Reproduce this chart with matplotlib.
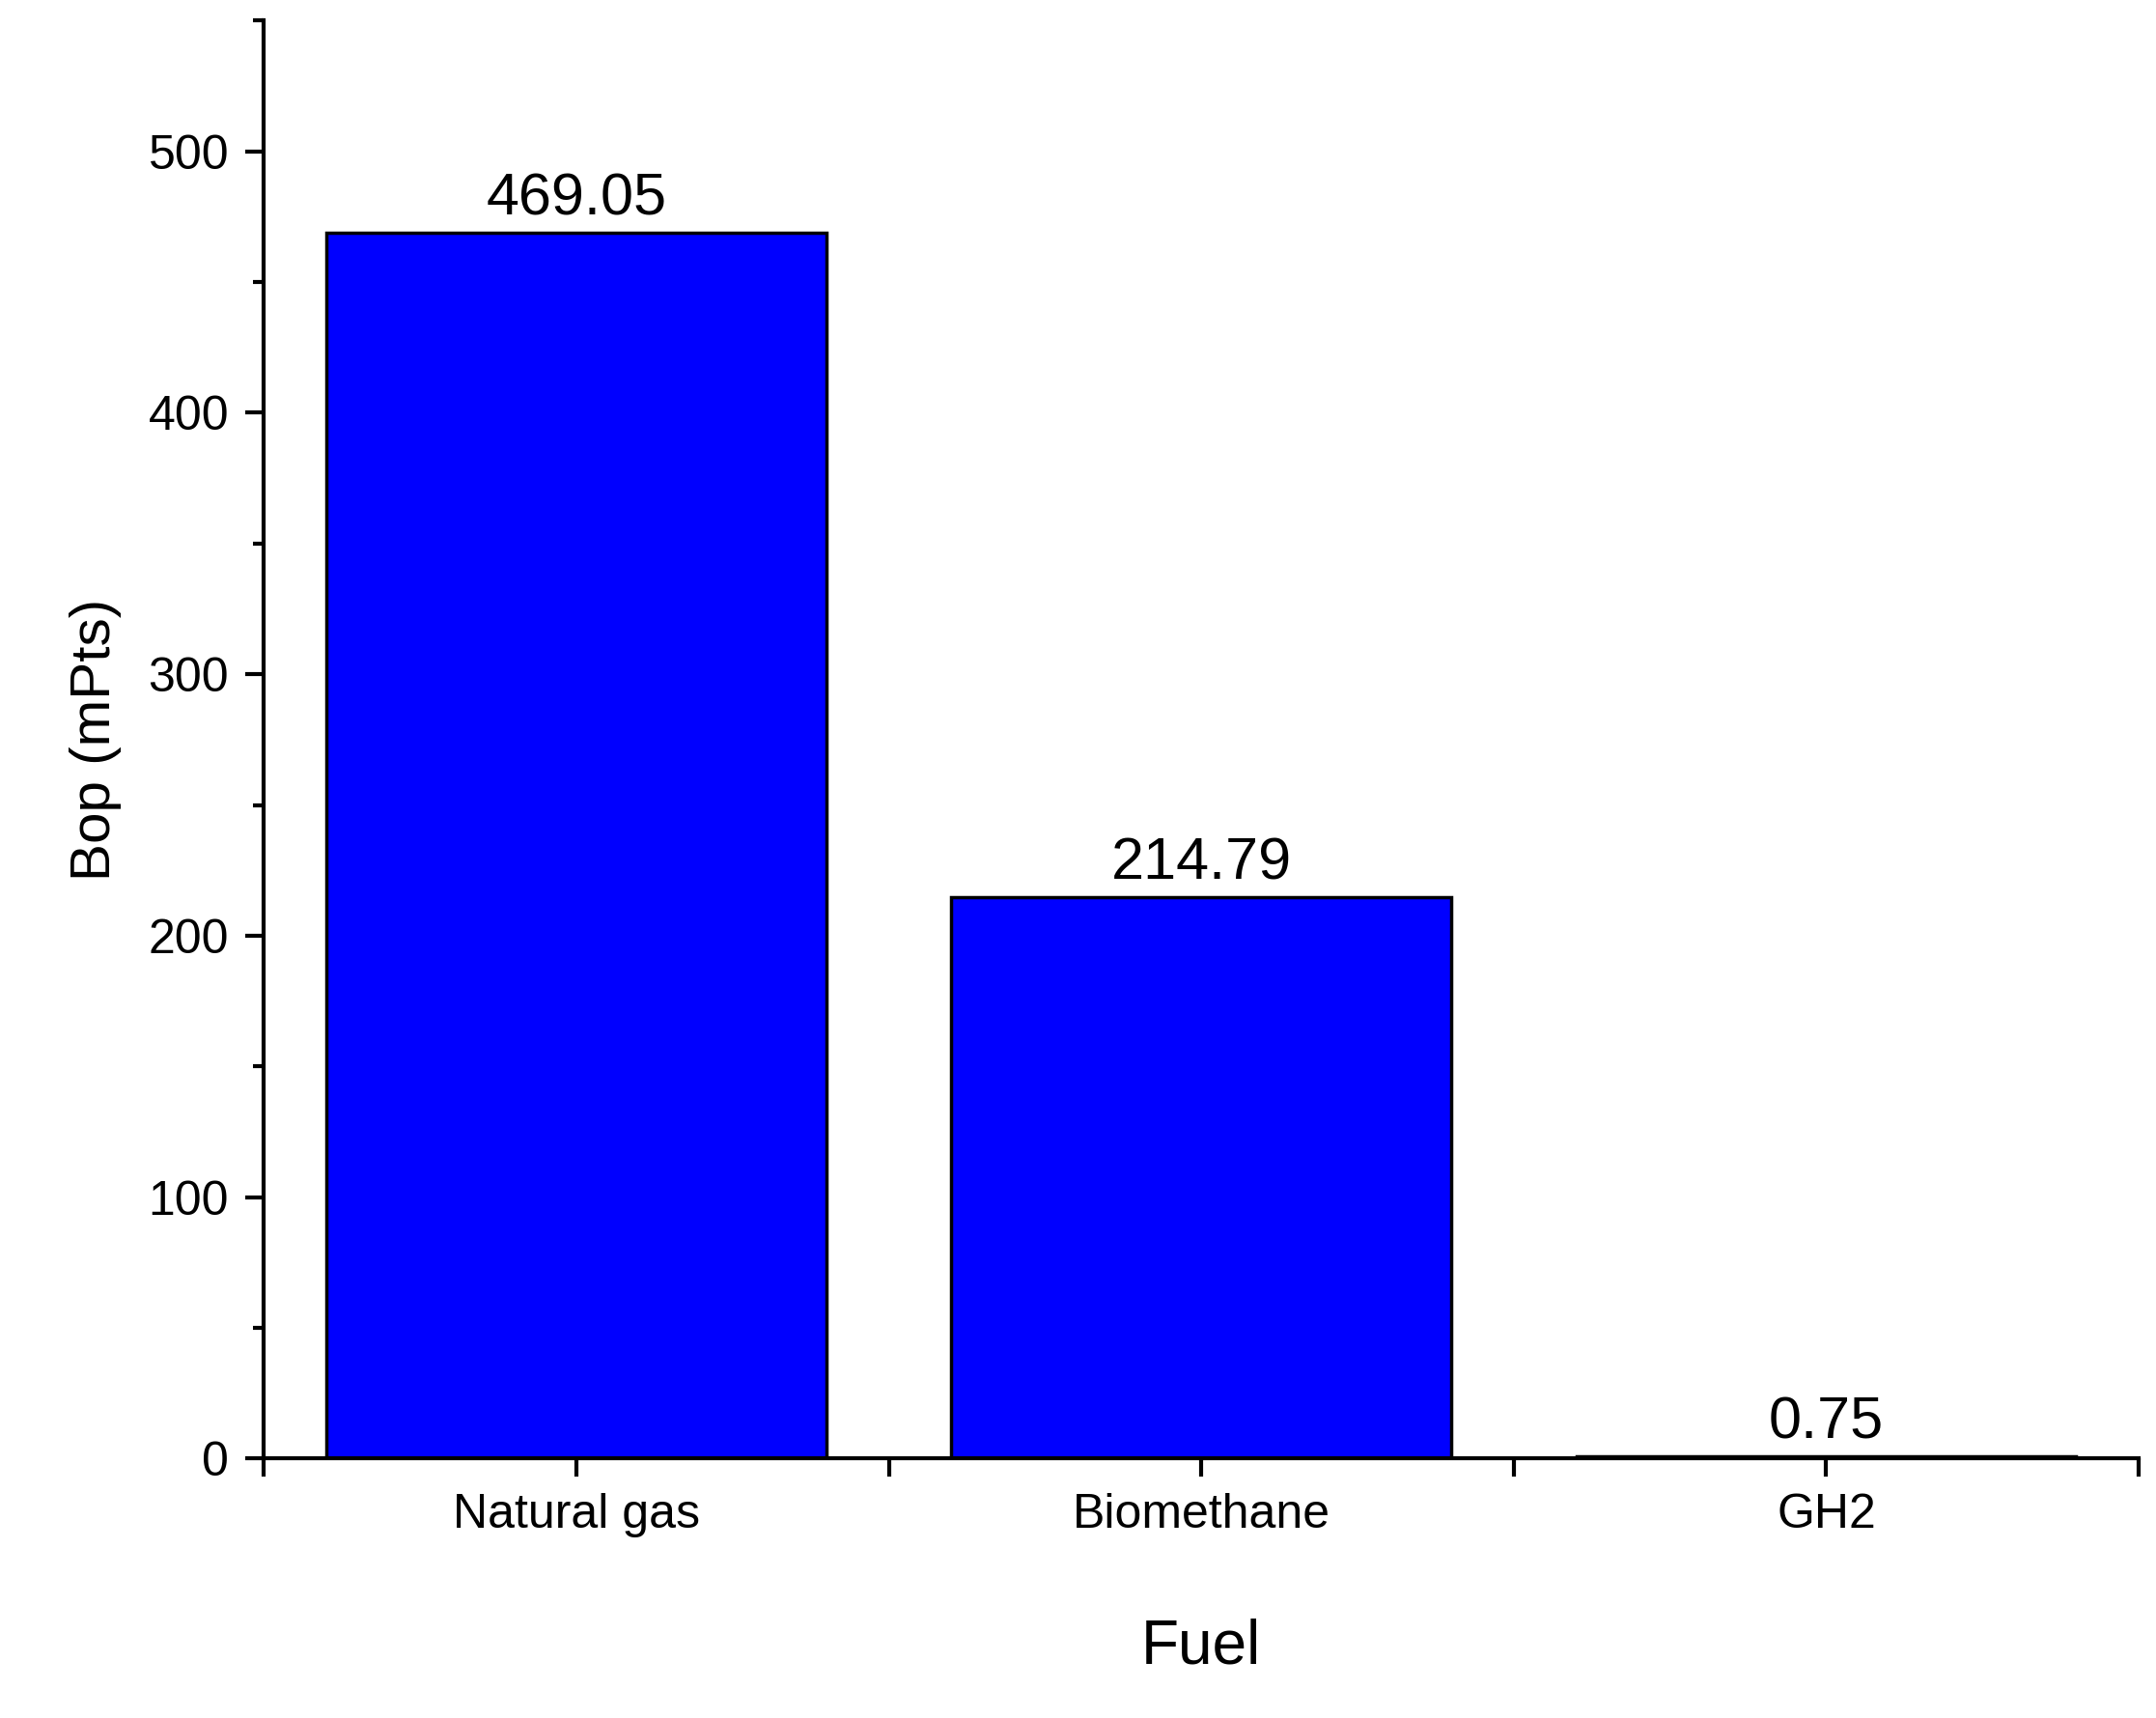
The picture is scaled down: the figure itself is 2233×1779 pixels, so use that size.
import matplotlib.pyplot as plt
from matplotlib.ticker import MultipleLocator

fuels = ['Natural gas', 'Biomethane', 'GH2']
bop = [469.05, 214.79, 0.75]
labels = ['469.05', '214.79', '0.75']

plt.rcParams['font.family'] = ['Liberation Sans', 'DejaVu Sans']

fig = plt.figure(figsize=(22.33, 17.79), dpi=100)
ax = fig.add_axes([0.1224, 0.151, 0.8696, 0.837])

xpos = [0.5, 1.5, 2.5]
ax.bar(xpos, bop, width=0.8, color='#0000ff', edgecolor='black', linewidth=2.5)
for x, v, s in zip(xpos, bop, labels):
    ax.text(x, v + 2, s, ha='center', va='bottom', fontsize=44)

ax.set_xlim(0, 3)
ax.set_ylim(0, 550)
ax.set_xticks(xpos)
ax.set_xticklabels(fuels)
ax.set_xticks([0, 1, 2, 3], minor=True)
ax.yaxis.set_major_locator(MultipleLocator(100))
ax.yaxis.set_minor_locator(MultipleLocator(50))

for s in ['top', 'right']:
    ax.spines[s].set_visible(False)
for s in ['left', 'bottom']:
    ax.spines[s].set_linewidth(3)

ax.tick_params(axis='both', which='major', length=14, width=3, labelsize=36, pad=12)
ax.tick_params(axis='x', which='minor', length=14, width=3)
ax.tick_params(axis='y', which='minor', length=8, width=3)

ax.set_xlabel('Fuel', fontsize=46, labelpad=60)
ax.set_ylabel('Bop (mPts)', fontsize=42, labelpad=20)

fig.savefig('out.png', dpi=100)
